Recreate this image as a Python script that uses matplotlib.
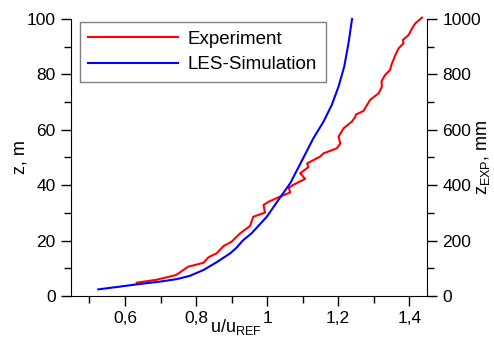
import matplotlib
matplotlib.use("Agg")
import matplotlib.pyplot as plt
from matplotlib.ticker import MultipleLocator, FuncFormatter

plt.rcParams['font.family'] = ['Liberation Sans', 'DejaVu Sans']
plt.rcParams['font.size'] = 12.5

# LES profile: u/u_REF against height z [m]
les_u = [0.525, 0.58, 0.633, 0.699, 0.746, 0.783, 0.821, 0.858, 0.896, 0.912,
         0.933, 0.956, 0.999, 1.032, 1.065, 1.094, 1.130, 1.159, 1.182,
         1.201, 1.217, 1.229, 1.239]
les_z = [2.4, 3.3, 4.2, 5.2, 6.1, 7.3, 9.4, 12.2, 15.4, 17.2,
         20.2, 22.6, 28.6, 34.7, 40.7, 47.9, 56.9, 63.0, 69.0,
         75.6, 82.8, 91.2, 100]

# wind tunnel profile, heights already scaled to full size [m]
exp_u = [0.633, 0.69, 0.744, 0.760, 0.778, 0.800, 0.821, 0.835, 0.858, 0.877,
         0.900, 0.924, 0.952, 0.961, 0.994, 0.990, 1.004, 1.035, 1.065, 1.061,
         1.072, 1.107, 1.093, 1.116, 1.113, 1.149, 1.159, 1.196, 1.206, 1.201,
         1.215, 1.239, 1.248, 1.250, 1.271, 1.290, 1.314, 1.323, 1.322, 1.332,
         1.346, 1.350, 1.361, 1.370, 1.384, 1.382, 1.398, 1.408, 1.417, 1.436]
exp_z = [4.8, 5.9, 7.6, 9.0, 10.6, 11.3, 12.0, 14.0, 15.4, 18.0,
         19.6, 22.6, 25.3, 28.6, 30.1, 32.9, 34.0, 35.8, 37.4, 39.0,
         40.0, 42.3, 44.3, 46.5, 47.9, 50.3, 51.5, 53.3, 55.0, 57.5,
         60.5, 63.0, 64.7, 65.5, 66.8, 70.8, 73.2, 75.5, 77.5, 79.8,
         81.6, 83.5, 87.0, 89.4, 91.2, 92.4, 94.2, 96.6, 98.4, 100.5]

fig = plt.figure(figsize=(4.94, 3.45), dpi=100)
ax = fig.add_axes([0.1437, 0.142, 0.7207, 0.803])

ax.plot(exp_u, exp_z, color='#ff0000', lw=1.5, label='Experiment', clip_on=False)
ax.plot(les_u, les_z, color='#0000ff', lw=1.5, label='LES-Simulation', clip_on=False)

ax.set_xlim(0.448, 1.45)
ax.set_ylim(0, 100)
ax.xaxis.set_major_locator(MultipleLocator(0.2))
ax.xaxis.set_minor_locator(MultipleLocator(0.1))
ax.yaxis.set_major_locator(MultipleLocator(20))
ax.yaxis.set_minor_locator(MultipleLocator(10))
comma = FuncFormatter(lambda v, p: ('%g' % round(v, 3)).replace('.', ','))
ax.xaxis.set_major_formatter(comma)

for s in ['top', 'right']:
    ax.spines[s].set_visible(False)
ax.tick_params(which='major', direction='out', length=7, width=1, pad=4)
ax.tick_params(which='minor', direction='out', length=5, width=1)

ax.set_ylabel('z, m', fontsize=13)
ax.yaxis.set_label_coords(-0.12, 0.5)
ax.set_xlabel('u/u$_\\mathregular{REF}$', fontsize=13)
ax.xaxis.set_label_coords(0.462, -0.074)

ax2 = ax.twinx()
ax2.set_ylim(0, 1000)
ax2.yaxis.set_major_locator(MultipleLocator(200))
ax2.yaxis.set_minor_locator(MultipleLocator(100))
for s in ['top', 'left', 'bottom']:
    ax2.spines[s].set_visible(False)
ax2.tick_params(which='major', direction='out', length=7, width=1, pad=4)
ax2.tick_params(which='minor', direction='out', length=5, width=1)
ax2.set_ylabel('z$_\\mathregular{EXP}$, mm', fontsize=13)
ax2.yaxis.set_label_coords(1.135, 0.5)

leg = ax.legend(loc='upper left', bbox_to_anchor=(0.025, 0.989), borderaxespad=0,
                fancybox=False, edgecolor='#808080', framealpha=1,
                handlelength=4.8, handletextpad=0.5, labelspacing=0.45,
                borderpad=0.45, fontsize=13.5)
leg.get_frame().set_linewidth(1.0)

fig.savefig('out.png', dpi=100)
